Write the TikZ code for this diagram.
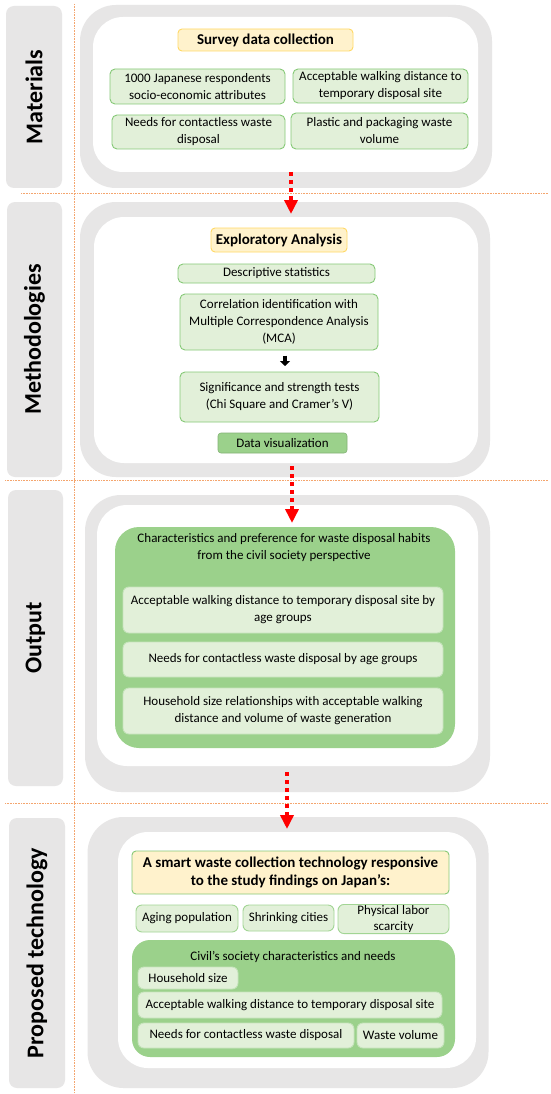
\documentclass[tikz,border=0pt]{standalone}
\usepackage{fontspec}
\setmainfont{Carlito}
\usetikzlibrary{arrows.meta}
\definecolor{framegray}{HTML}{E7E6E6}
\definecolor{lgreen}{HTML}{E2F0D9}
\definecolor{dgreen}{HTML}{9BD18B}
\definecolor{gborder}{HTML}{86C977}
\definecolor{lyellow}{HTML}{FFF2CC}
\definecolor{yborder}{HTML}{FFD966}
\definecolor{sepor}{HTML}{F4A56E}
\definecolor{arrred}{HTML}{FF0000}
\tikzset{
  lbl/.style={fill=framegray, rounded corners=8pt, inner sep=0pt},
  lbltext/.style={rotate=90, font=\fontsize{24}{28}\selectfont\bfseries},
  outerframe/.style={fill=framegray, rounded corners=36pt, inner sep=0pt},
  innerframe/.style={fill=white, rounded corners=30pt, inner sep=0pt},
  gbox/.style={fill=lgreen, draw=gborder, line width=0.9pt, rounded corners=5pt, align=center, inner sep=1pt, font=\fontsize{13}{17}\selectfont},
  sbox/.style={fill=lgreen, draw=lgreen!70!gborder, line width=0.9pt, rounded corners=6pt, align=center, inner sep=1pt, font=\fontsize{13}{17}\selectfont},
  dbox/.style={fill=dgreen, draw=dgreen!85!black, line width=0.6pt, rounded corners=3pt, align=center, inner sep=1pt, font=\fontsize{13}{17}\selectfont},
  bigbox/.style={fill=dgreen, rounded corners=24pt, inner sep=0pt},
  ybox/.style={fill=lyellow, draw=yborder, line width=0.9pt, rounded corners=4pt, align=center, inner sep=1pt, font=\fontsize{15}{18.5}\selectfont\bfseries},
  sep/.style={sepor, densely dotted, line width=0.6pt},
  redarrow/.style={arrred, line width=3.6pt, dash pattern=on 3.6pt off 4.4pt, -{Triangle[width=13pt,length=14pt]}},
  blackarrow/.style={black, line width=3.2pt, -{Triangle[width=10pt,length=5pt]}},
  plain/.style={align=center, inner sep=0pt, font=\fontsize{13}{17}\selectfont}
}
\begin{document}
\begin{tikzpicture}[x=1pt,y=-1pt]
\useasboundingbox (0,0) rectangle (550,1094);
\fill[white] (0,0) rectangle (550,1094);

% separators
\coordinate (vtop) at (74,4);
\coordinate (vbot) at (74,1094);
\draw[sep] (vtop) -- (vbot);
\coordinate (h1a) at (21,193); \coordinate (h1b) at (548,193);
\coordinate (h2a) at (5,480); \coordinate (h2b) at (548,480);
\coordinate (h3a) at (5,803); \coordinate (h3b) at (548,803);
\draw[sep] (h1a) -- (h1b);
\draw[sep] (h2a) -- (h2b);
\draw[sep] (h3a) -- (h3b);

% side labels
\node[lbl, minimum width=56pt, minimum height=182pt] (Lmat) at (34,97) {};
\node[lbltext] (Tmat) at (Lmat.center) {Materials};
\node[lbl, minimum width=55pt, minimum height=275pt] (Lmeth) at (34.5,339.5) {};
\node[lbltext] (Tmeth) at (Lmeth.center) {Methodologies};
\node[lbl, minimum width=55pt, minimum height=296pt] (Lout) at (35.5,638) {};
\node[lbltext] (Tout) at (Lout.center) {Output};
\node[lbl, minimum width=56pt, minimum height=270pt] (Lprop) at (37,953) {};
\node[lbltext] (Tprop) at (Lprop.center) {Proposed technology};

% frames
\node[outerframe, minimum width=412pt, minimum height=183pt] (Fmat) at (286,96.5) {};
\node[innerframe, minimum width=385pt, minimum height=155pt] (Imat) at (285.5,94.5) {};
\node[outerframe, minimum width=410pt, minimum height=275pt] (Fmeth) at (285,339.5) {};
\node[innerframe, minimum width=384pt, minimum height=246pt] (Imeth) at (286,340) {};
\node[outerframe, minimum width=405pt, minimum height=297pt] (Fout) at (287.5,643.5) {};
\node[innerframe, minimum width=381pt, minimum height=261pt] (Iout) at (287.5,635.5) {};
\node[outerframe, minimum width=401pt, minimum height=271pt] (Fprop) at (288,952.5) {};
\node[innerframe, minimum width=358pt, minimum height=236pt] (Iprop) at (297,950) {};

% Materials
\node[ybox, minimum width=175pt, minimum height=22pt] (survey) at (265.5,40) {Survey data collection};
\node[gbox, minimum width=175pt, minimum height=35pt] (m1) at (197.5,86.5) {1000 Japanese respondents\\socio-economic attributes};
\node[gbox, minimum width=175pt, minimum height=34pt] (m2) at (380.5,86) {Acceptable walking distance to\\temporary disposal site};
\node[gbox, minimum width=173pt, minimum height=34pt] (m3) at (198.5,132) {Needs for contactless waste\\disposal};
\node[gbox, minimum width=177pt, minimum height=36pt] (m4) at (379.5,131) {Plastic and packaging waste\\volume};

% Methodologies
\node[ybox, minimum width=136pt, minimum height=24pt] (explor) at (279,240) {Exploratory Analysis};
\node[gbox, minimum width=197pt, minimum height=19pt] (desc) at (276.5,273.5) {Descriptive statistics};
\node[gbox, minimum width=198pt, minimum height=56pt] (corr) at (279,322) {Correlation identification with\\Multiple Correspondence Analysis\\(MCA)};
\node[gbox, minimum width=199pt, minimum height=50pt] (sig) at (279.5,397) {Significance and strength tests\\(Chi Square and Cramer’s V)};
\node[dbox, minimum width=129pt, minimum height=20pt] (dviz) at (282.5,443) {Data visualization};
\coordinate (ba1) at (285,355.5);
\coordinate (ba2) at (285,366);
\draw[blackarrow] (ba1) -- (ba2);

% Output
\node[bigbox, minimum width=340pt, minimum height=221pt] (obig) at (285,637.5) {};
\node[plain] (otitle) at (284,547.5) {Characteristics and preference for waste disposal habits\\from the civil society perspective};
\node[sbox, minimum width=320pt, minimum height=46pt] (o1) at (283,610) {Acceptable walking distance to temporary disposal site by\\age groups};
\node[sbox, minimum width=320pt, minimum height=35pt] (o2) at (283,659.5) {Needs for contactless waste disposal by age groups};
\node[sbox, minimum width=320pt, minimum height=46pt] (o3) at (283,711) {Household size relationships with acceptable walking\\distance and volume of waste generation};

% Proposed technology
\node[ybox, draw=gborder, minimum width=317pt, minimum height=43pt] (smart) at (290.5,872.5) {A smart waste collection technology responsive\\to the study findings on Japan’s:};
\node[sbox, draw=gborder!70!lgreen, minimum width=102pt, minimum height=27pt] (aging) at (187,918.5) {Aging population};
\node[sbox, draw=gborder!70!lgreen, minimum width=91pt, minimum height=26pt] (shrink) at (288.5,918) {Shrinking cities};
\node[sbox, draw=gborder!70!lgreen, minimum width=111pt, minimum height=28pt, font=\fontsize{13}{16}\selectfont] (labor) at (393.5,919) {Physical labor\\scarcity};
\node[bigbox, rounded corners=18pt, minimum width=323pt, minimum height=117pt] (pbig) at (293.5,998.5) {};
\node[plain] (ptitle) at (293,957) {Civil’s society characteristics and needs};
\node[sbox, minimum width=100pt, minimum height=22pt] (house) at (188,978) {Household size};
\node[sbox, minimum width=304pt, minimum height=26pt] (walk) at (290,1005) {Acceptable walking distance to temporary disposal site};
\node[sbox, minimum width=216pt, minimum height=25pt] (contact) at (246,1035.5) {Needs for contactless waste disposal};
\node[sbox, minimum width=87pt, minimum height=25pt] (wvol) at (400.5,1035.5) {Waste volume};

% red arrows
\coordinate (r1s) at (291,172);
\coordinate (r1e) at (291,214);
\draw[redarrow] (r1s) -- (r1e);
\coordinate (r2s) at (292,466);
\coordinate (r2e) at (292,523);
\draw[redarrow] (r2s) -- (r2e);
\coordinate (r3s) at (287,772);
\coordinate (r3e) at (287,829);
\draw[redarrow] (r3s) -- (r3e);
\end{tikzpicture}
\end{document}
